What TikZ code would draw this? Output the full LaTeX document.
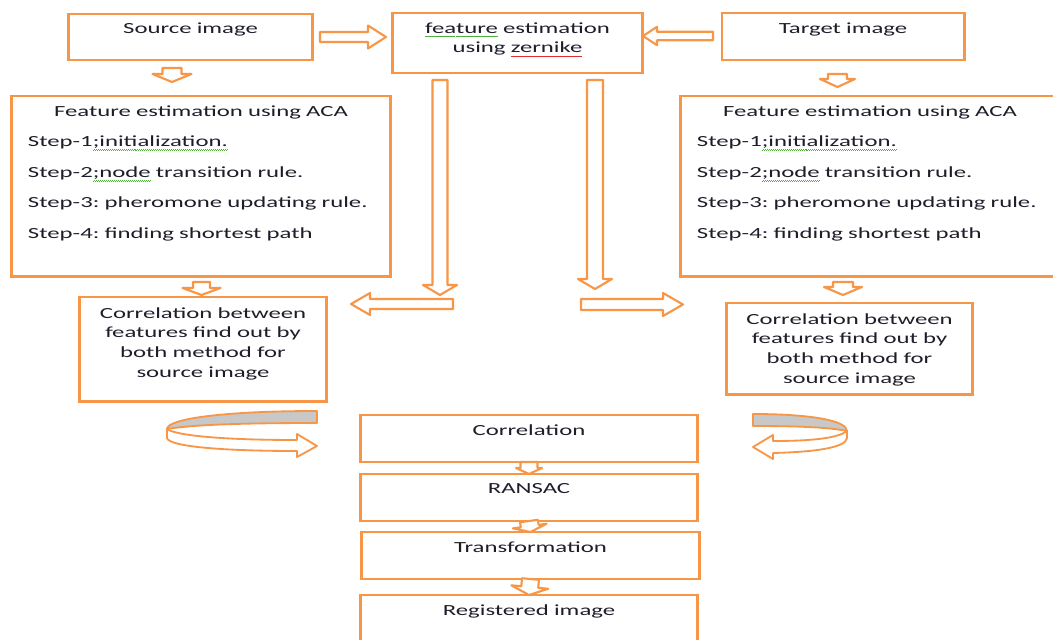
\documentclass[tikz,border=0pt]{standalone}
\usepackage{fontspec}
\setmainfont{Carlito}[FakeStretch=1.6]
\usepackage{tikz}
\usetikzlibrary{calc}
\frenchspacing
\definecolor{boxorange}{RGB}{247,150,70}
\definecolor{txtgray}{RGB}{30,30,42}
\definecolor{ringgray}{RGB}{200,200,200}
\definecolor{wavegreen}{RGB}{80,175,60}
\definecolor{wavered}{RGB}{225,45,45}
\newcommand{\pxpt}{0.7113}
\newsavebox{\spellbox}
\newcommand{\spellmark}[2]{\sbox{\spellbox}{#2}\makebox[0pt][l]{\textcolor{#1}{\raisebox{-3pt}{\hbox to \wd\spellbox{\xleaders\hbox{\rule[0pt]{0.7pt}{0.6pt}\rule[0.6pt]{0.7pt}{0.6pt}}\hfill}}}}\usebox{\spellbox}}
% hollow block arrow: from, to, shaft half width, head half width, head length (px)
\newcommand{\blockarrow}[5]{%
  \draw[blockarr] let \p1=(#1), \p2=(#2), \n1={veclen(\x2-\x1,\y2-\y1)},
      \n2={(\x2-\x1)/\n1}, \n3={(\y2-\y1)/\n1} in
    ({\x1-(\n3)*#3*\pxpt}, {\y1+(\n2)*#3*\pxpt})
    -- ({\x2-(\n2)*#5*\pxpt-(\n3)*#3*\pxpt}, {\y2-(\n3)*#5*\pxpt+(\n2)*#3*\pxpt})
    -- ({\x2-(\n2)*#5*\pxpt-(\n3)*#4*\pxpt}, {\y2-(\n3)*#5*\pxpt+(\n2)*#4*\pxpt})
    -- (\x2,\y2)
    -- ({\x2-(\n2)*#5*\pxpt+(\n3)*#4*\pxpt}, {\y2-(\n3)*#5*\pxpt-(\n2)*#4*\pxpt})
    -- ({\x2-(\n2)*#5*\pxpt+(\n3)*#3*\pxpt}, {\y2-(\n3)*#5*\pxpt-(\n2)*#3*\pxpt})
    -- ({\x1+(\n3)*#3*\pxpt}, {\y1-(\n2)*#3*\pxpt}) -- cycle;}

\begin{document}
\begin{tikzpicture}[
    x=0.025cm, y=-0.025cm,
    box/.style={draw=boxorange, line width=2.1pt, inner xsep=0pt, inner ysep=0pt, outer sep=0pt, anchor=north, align=center, text=txtgray, font=\fontsize{11}{14.2}\selectfont},
    acabox/.style={box, align=left, minimum width=9.45cm, text width=8.65cm, text height=0.5cm, text depth=4.0cm, font=\fontsize{11}{21.8}\selectfont},
    blockarr/.style={draw=boxorange, line width=1.5pt, fill=white, line join=round},
    ring/.style={draw=boxorange, line width=1.3pt, line join=round}
]
\useasboundingbox (0,0) rectangle (1053,639);
\clip (0,0) rectangle (1053,639);

\node[box, minimum width=6.075cm, text width=6.075cm, text height=0.475cm, text depth=0.675cm] (src) at (190.5,14) {Source image};
\node[box, minimum width=6.225cm, text width=6.225cm, text height=0.5cm, text depth=1.0cm] (zern) at (517.5,13) {\spellmark{wavegreen}{feature} estimation\\using \spellmark{wavered}{zernike}};
\node[box, minimum width=6.05cm, text width=6.05cm, text height=0.5cm, text depth=0.675cm] (tgt) at (843,13) {Target image};

\node[acabox] (acaL) at (201,96) {\makebox[\linewidth]{Feature estimation using ACA}\\Step-1\spellmark{wavegreen}{;initialization.}\\Step-2\spellmark{wavegreen}{;node} transition rule.\\Step-3: pheromone updating rule.\\Step-4: finding shortest path};
\node[acabox] (acaR) at (870,96) {\makebox[\linewidth]{Feature estimation using ACA}\\Step-1\spellmark{wavegreen}{;initialization.}\\Step-2\spellmark{wavegreen}{;node} transition rule.\\Step-3: pheromone updating rule.\\Step-4: finding shortest path};

\node[box, minimum width=6.15cm, text width=6.15cm, text height=0.525cm, text depth=2.075cm] (corrL) at (203,297) {Correlation between\\features find out by\\both method for\\source image};
\node[box, minimum width=6.125cm, text width=6.125cm, text height=0.525cm, text depth=1.75cm] (corrR) at (849.5,303) {Correlation between\\features find out by\\both method for\\source image};

\node[box, minimum width=8.4cm, text width=8.4cm, text height=0.5cm, text depth=0.675cm] (corr) at (529,415) {Correlation};
\node[box, minimum width=8.4cm, text width=8.4cm, text height=0.475cm, text depth=0.7cm] (ransac) at (529,474) {RANSAC};
\node[box, minimum width=8.425cm, text width=8.425cm, text height=0.5cm, text depth=0.675cm] (transf) at (530.5,532) {Transformation};
\node[box, minimum width=8.4cm, text width=8.4cm, text height=0.5cm, text depth=1.25cm] (reg) at (529,595) {Registered image};

\coordinate (srcout) at (320,37);
\coordinate (zernin1) at (386,37);
\coordinate (tgtout) at (713,36);
\coordinate (zernin2) at (643,36);
\coordinate (srcdown) at (172,68);
\coordinate (acaLin) at (172,82);
\coordinate (tgtdown) at (837.5,74);
\coordinate (acaRin) at (837.5,87);
\coordinate (zernoutL) at (440,80);
\coordinate (zernendL) at (440,295);
\coordinate (zernoutR) at (595,80);
\coordinate (zernendR) at (595,289);
\coordinate (crossL) at (453,304);
\coordinate (corrLin) at (351,304);
\coordinate (crossR) at (581,304.5);
\coordinate (corrRin) at (683,304.5);
\coordinate (acaLout) at (201.5,282);
\coordinate (corrLtop) at (201.5,295);
\coordinate (acaRout) at (843,282);
\coordinate (corrRtop) at (843,295);
\coordinate (turnL) at (317,411);
\coordinate (turnR) at (753,414);

\blockarrow{srcout}{zernin1}{5}{11.5}{18}
\blockarrow{tgtout}{zernin2}{4.2}{9.2}{14}
\blockarrow{srcdown}{acaLin}{9.5}{19.5}{8}
\blockarrow{tgtdown}{acaRin}{9.5}{17.5}{8}
\blockarrow{zernoutL}{zernendL}{7.5}{17}{10}
\blockarrow{zernoutR}{zernendR}{8}{17}{10}
\blockarrow{crossL}{corrLin}{5}{11}{19}
\blockarrow{crossR}{corrRin}{5.5}{11.5}{20}
\blockarrow{acaLout}{corrLtop}{8.5}{19}{7}
\blockarrow{acaRout}{corrRtop}{10}{19}{8}
\blockarrow{corr.south}{ransac.north}{8.5}{13}{6}
\blockarrow{ransac.south}{transf.north}{9}{17}{6}
\blockarrow{transf.south}{reg.north}{8.5}{18.5}{8}

\begin{scope}[shift={(turnL)}]
  \filldraw[ring, fill=ringgray] (0,0) .. controls (-95,0) and (-150,8) .. (-150,18) .. controls (-120,13) and (-60,12) .. (0,12) -- cycle;
  \filldraw[ring, fill=white] (-150,18) -- (-150,27) .. controls (-148,36) and (-90,40) .. (-20,40) -- (-20,46) -- (0,35) -- (-20,23) -- (-20,29) .. controls (-90,29) and (-140,25) .. (-150,18) -- cycle;
\end{scope}
\begin{scope}[shift={(turnR)}]
  \filldraw[ring, fill=ringgray] (0,0) .. controls (60,0) and (94,7) .. (94,17) .. controls (75,13) and (40,12) .. (0,12) -- cycle;
  \filldraw[ring, fill=white] (94,17) -- (94,24) .. controls (93,34) and (60,38) .. (20,39) -- (20,45) -- (0,33) -- (20,21) -- (20,27) .. controls (60,27) and (85,24) .. (94,17) -- cycle;
\end{scope}
\end{tikzpicture}
\end{document}
